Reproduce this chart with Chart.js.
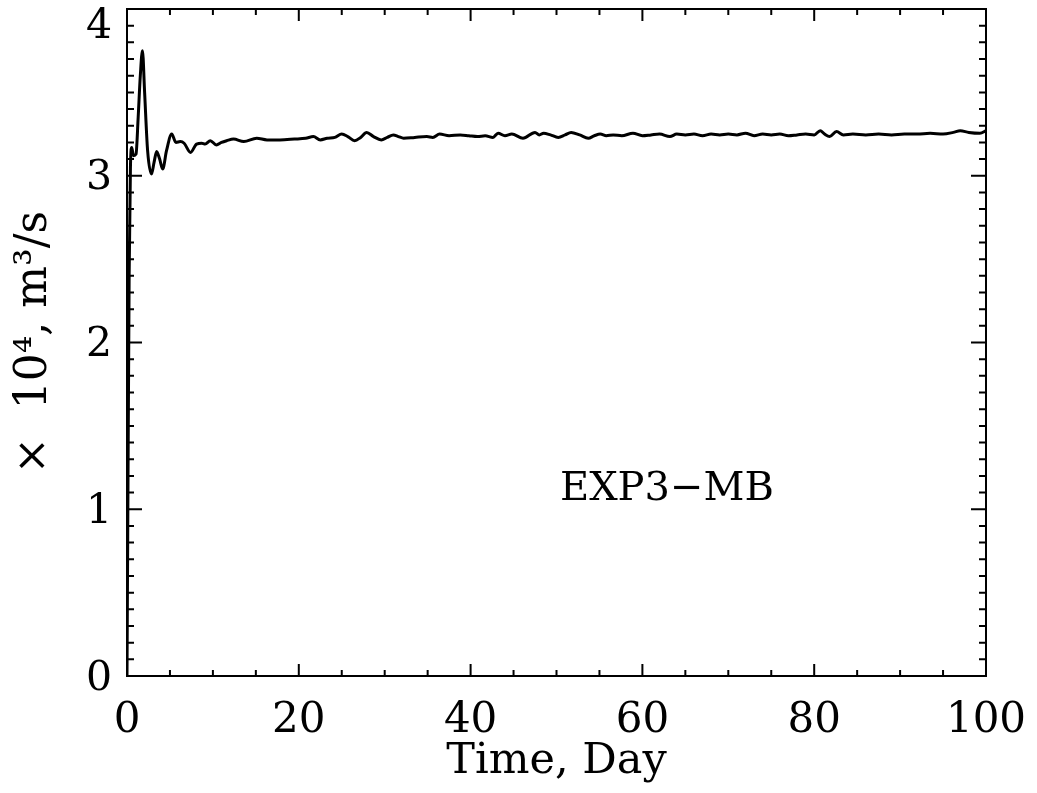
<!DOCTYPE html>
<html>
<head>
<meta charset="utf-8">
<script src="https://cdn.jsdelivr.net/npm/chart.js@4.4.0/dist/chart.umd.min.js"></script>
<style>
  html, body { margin: 0; padding: 0; background: #fff; }
  #wrap { width: 1037px; height: 793px; }
</style>
</head>
<body>
<div id="wrap"><canvas id="c" width="1037" height="793"></canvas></div>
<script>
// ---- data ----
const days = [
  0, 0.1, 0.25, 0.4, 0.55, 0.75, 1.05, 1.3, 1.55, 1.8, 2.05, 2.4, 2.85, 3.15, 3.45, 3.8, 4.15, 4.6,
  5.2, 5.7, 6.2, 6.65, 7.4, 8.1, 8.7, 9.1, 9.7, 10.4, 11.0, 11.6, 12.4, 13.6, 15.1, 16.3, 17.8,
  19.5, 20.8, 21.7, 22.5, 23.3, 24.2, 25.0, 25.7, 26.5, 27.2, 27.9, 28.7, 29.6, 30.3, 31.0, 31.6,
  32.2, 33.5, 34.9, 35.6, 36.4, 37.5, 38.8, 39.8, 40.8, 41.7, 42.6, 43.2, 44.0, 44.8, 46.1, 47.5,
  48.0, 48.5, 49.3, 50.2, 51.0, 51.7, 52.7, 53.7, 54.4, 55.1, 55.8, 56.6, 57.6, 58.9, 60, 61, 62,
  63.2, 64, 65, 66, 67, 68, 69, 70, 71, 72, 73, 74, 75, 76, 77, 78, 79, 80, 80.7, 81.2, 81.8, 82.6,
  83.4, 84.5, 86, 87.5, 89, 90.5, 92, 93.5, 95, 96.2, 97, 98, 99.3, 100
];
const flow = [
  0.00, 1.0, 2.4, 3.05, 3.17, 3.12, 3.13, 3.35, 3.6, 3.75, 3.5, 3.15, 3.01, 3.08, 3.145, 3.1, 3.04, 3.15,
  3.25, 3.2, 3.205, 3.195, 3.14, 3.19, 3.195, 3.19, 3.21, 3.185, 3.2, 3.21, 3.22, 3.205, 3.225, 3.215, 3.215,
  3.22, 3.225, 3.235, 3.215, 3.225, 3.23, 3.25, 3.235, 3.21, 3.23, 3.26, 3.235, 3.215, 3.23, 3.245, 3.235,
  3.225, 3.23, 3.235, 3.23, 3.25, 3.24, 3.245, 3.24, 3.235, 3.24, 3.23, 3.255, 3.24, 3.25, 3.225, 3.26,
  3.245, 3.255, 3.245, 3.23, 3.245, 3.26, 3.245, 3.225, 3.24, 3.25, 3.24, 3.245, 3.24, 3.255, 3.24, 3.245, 3.25,
  3.235, 3.25, 3.245, 3.25, 3.24, 3.25, 3.245, 3.25, 3.245, 3.255, 3.24, 3.25, 3.245, 3.25, 3.24, 3.245, 3.25, 3.245, 3.27, 3.25, 3.235, 3.265,
  3.245, 3.25, 3.245, 3.25, 3.245, 3.25, 3.25, 3.255, 3.25, 3.26, 3.27, 3.26, 3.255, 3.27
];
const xTicks = [0, 20, 40, 60, 80, 100];
const yTicks = [0, 1, 2, 3, 4];
const xTitle = 'Time, Day';
const yTitle = '×  10⁴, m³/s';
const annotation = 'EXP3−MB';
const annotationPos = [50.4, 1.12];
const xMinorStep = 5;
const yMinorStep = 0.1;

const FONT = "'DejaVu Serif', serif";

// shift y tick labels slightly downward (top one more, so it stays inside the page)
function patchYLabels(s) {
  if (s.$patched) return;
  s.$patched = true;
  const orig = s._computeLabelItems;
  s._computeLabelItems = function (ca) {
    const items = orig.call(this, ca);
    items.forEach((it, i) => {
      const t = it.options && it.options.translation;
      if (!t) return;
      const v = this.ticks[i] ? this.ticks[i].value : null;
      t[1] += (v === yTicks[yTicks.length - 1]) ? 18 : 3;
    });
    return items;
  };
}

const frameTicks = {
  id: 'frameTicks',
  afterDatasetsDraw(chart) {
    const { ctx, chartArea: a, scales: { x, y } } = chart;
    ctx.save();
    ctx.strokeStyle = '#000';
    ctx.lineWidth = 2;
    ctx.strokeRect(a.left, a.top, a.right - a.left, a.bottom - a.top);
    ctx.beginPath();
    const xMin = xTicks[0], xMax = xTicks[xTicks.length - 1];
    const nx = Math.round((xMax - xMin) / xMinorStep);
    for (let i = 0; i <= nx; i++) {
      const v = xMin + i * xMinorStep;
      const px = x.getPixelForValue(v);
      const major = xTicks.includes(v);
      const L = major ? 12 : 6;
      ctx.moveTo(px, a.bottom); ctx.lineTo(px, a.bottom - L);
      ctx.moveTo(px, a.top); ctx.lineTo(px, a.top + L);
    }
    const yMin = yTicks[0], yMax = yTicks[yTicks.length - 1];
    const ny = Math.round((yMax - yMin) / yMinorStep);
    for (let i = 0; i <= ny; i++) {
      const v = yMin + i * yMinorStep;
      const py = y.getPixelForValue(v);
      const major = i % Math.round(1 / yMinorStep) === 0;
      const L = major ? 15 : 7;
      ctx.moveTo(a.left, py); ctx.lineTo(a.left + L, py);
      ctx.moveTo(a.right, py); ctx.lineTo(a.right - L, py);
    }
    ctx.stroke();
    // annotation text
    ctx.fillStyle = '#000';
    ctx.font = "40px " + FONT;
    ctx.textAlign = 'left';
    ctx.textBaseline = 'middle';
    ctx.fillText(annotation, x.getPixelForValue(annotationPos[0]), y.getPixelForValue(annotationPos[1]));
    ctx.restore();
  }
};

new Chart(document.getElementById('c'), {
  type: 'line',
  data: {
    datasets: [{
      data: days.map((d, i) => ({ x: d, y: flow[i] })),
      borderColor: '#000',
      borderWidth: 3,
      pointRadius: 0,
      fill: false,
      cubicInterpolationMode: 'monotone'
    }]
  },
  options: {
    responsive: false,
    animation: false,
    layout: { padding: { top: 9, right: 51, left: 0, bottom: 0 } },
    plugins: { legend: { display: false }, tooltip: { enabled: false } },
    scales: {
      x: {
        type: 'linear',
        min: xTicks[0], max: xTicks[xTicks.length - 1],
        afterBuildTicks: s => { s.ticks = xTicks.map(v => ({ value: v })); },
        afterFit: s => { s.height = 117; s.paddingLeft = 0; s.paddingRight = 0; },
        grid: { display: false, drawTicks: false },
        border: { display: false },
        ticks: { color: '#000', padding: 20, maxRotation: 0, font: { family: FONT, size: 42 } },
        title: { display: true, text: xTitle, color: '#000', padding: { top: 0, bottom: 5 }, font: { family: FONT, size: 43 } }
      },
      y: {
        type: 'linear',
        min: yTicks[0], max: yTicks[yTicks.length - 1],
        afterBuildTicks: s => { s.ticks = yTicks.map(v => ({ value: v })); },
        afterFit: s => { s.width = 127; s.paddingTop = 0; s.paddingBottom = 0; patchYLabels(s); },
        grid: { display: false, drawTicks: false },
        border: { display: false },
        ticks: { color: '#000', padding: 15, font: { family: FONT, size: 41 } },
        title: { display: true, text: yTitle, color: '#000', padding: { top: 8, bottom: 0 }, font: { family: FONT, size: 44 } }
      }
    }
  },
  plugins: [frameTicks]
});
</script>
</body>
</html>
